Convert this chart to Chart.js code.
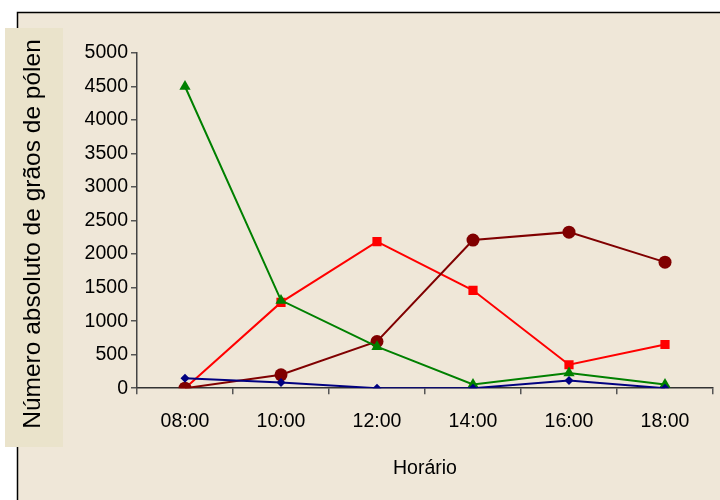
<!DOCTYPE html>
<html>
<head>
<meta charset="utf-8">
<script src="https://cdn.jsdelivr.net/npm/chart.js@4"></script>
<style>
  html, body { margin: 0; padding: 0; background: #ffffff; }
  #wrap { width: 720px; height: 500px; position: relative; }
</style>
</head>
<body>
<div id="wrap"><canvas id="c" width="720" height="500"></canvas></div>
<script>
// Sampling times (x categories)
const horarios = ['08:00', '10:00', '12:00', '14:00', '16:00', '18:00'];

// Absolute pollen grain counts for each series
const serieAzul     = [150, 85, 0, 0, 115, 0];
const serieVermelha = [0, 1280, 2185, 1460, 350, 652];
const serieVerde    = [4500, 1310, 620, 55, 225, 55];
const serieMarrom   = [0, 200, 697, 2210, 2328, 1880];

// Y axis range / step
const yMax = 5000;
const yStep = 500;

const FONT = '"Liberation Sans", Arial, sans-serif';
const BG = '#EFE7D8';
const TITLE_BG = '#EAE3CB';

// Page frame and the shaded y-axis title panel
const framePlugin = {
  id: 'frame',
  beforeDraw(chart) {
    const ctx = chart.ctx;
    ctx.save();
    ctx.fillStyle = '#ffffff';
    ctx.fillRect(0, 0, chart.width, chart.height);
    ctx.fillStyle = BG;
    ctx.fillRect(17, 12, chart.width - 17, chart.height - 12);
    ctx.strokeStyle = '#000000';
    ctx.lineWidth = 1.5;
    ctx.beginPath();
    ctx.moveTo(17.5, chart.height);
    ctx.lineTo(17.5, 12.5);
    ctx.lineTo(chart.width, 12.5);
    ctx.stroke();
    ctx.restore();
  },
  afterDraw(chart) {
    const ctx = chart.ctx;
    ctx.save();
    ctx.fillStyle = TITLE_BG;
    ctx.fillRect(5, 28, 58, 419);
    ctx.translate(33, 234);
    ctx.rotate(-Math.PI / 2);
    ctx.fillStyle = '#000000';
    ctx.font = '24.5px ' + FONT;
    ctx.textAlign = 'center';
    ctx.textBaseline = 'middle';
    ctx.fillText('Número absoluto de grãos de pólen', 0, 0);
    ctx.restore();
  }
};

const commonLine = { borderWidth: 2, fill: false, tension: 0, pointBorderWidth: 0 };

new Chart(document.getElementById('c'), {
  type: 'line',
  data: {
    labels: horarios,
    datasets: [
      Object.assign({ label: 'Série 1', data: serieAzul, borderColor: '#000080', backgroundColor: '#000080',
        pointStyle: 'rectRot', pointRadius: 4.5, order: 1 }, commonLine),
      Object.assign({ label: 'Série 2', data: serieVermelha, borderColor: '#FF0000', backgroundColor: '#FF0000',
        pointStyle: 'rect', pointRadius: 6.5, order: 4 }, commonLine),
      Object.assign({ label: 'Série 3', data: serieVerde, borderColor: '#008000', backgroundColor: '#008000',
        pointStyle: 'triangle', pointRadius: 6.5, order: 2 }, commonLine),
      Object.assign({ label: 'Série 4', data: serieMarrom, borderColor: '#800000', backgroundColor: '#800000',
        pointStyle: 'circle', pointRadius: 6.5, order: 3 }, commonLine)
    ]
  },
  options: {
    responsive: false,
    animation: false,
    devicePixelRatio: 1,
    layout: { padding: { left: 63, top: 53, right: 7, bottom: 20 } },
    plugins: { legend: { display: false }, tooltip: { enabled: false } },
    scales: {
      x: {
        offset: true,
        grid: { offset: true, drawOnChartArea: false, tickLength: 6, color: '#555555', lineWidth: 1.5 },
        border: { color: '#333333', width: 1.5 },
        ticks: { color: '#000000', font: { family: FONT, size: 19.5 }, padding: 16, maxRotation: 0 },
        title: { display: true, text: 'Horário', color: '#000000', font: { family: FONT, size: 19.5 }, padding: { top: 7, bottom: 0 } }
      },
      y: {
        min: 0,
        max: yMax,
        afterFit(scale) { scale.width = 74; },
        grid: { drawOnChartArea: false, tickLength: 6, color: '#555555', lineWidth: 1.5 },
        border: { color: '#444444', width: 1.5 },
        ticks: { stepSize: yStep, color: '#000000', font: { family: FONT, size: 19.5 }, padding: 3,
          callback: (v) => String(v) }
      }
    }
  },
  plugins: [framePlugin]
});
</script>
</body>
</html>
